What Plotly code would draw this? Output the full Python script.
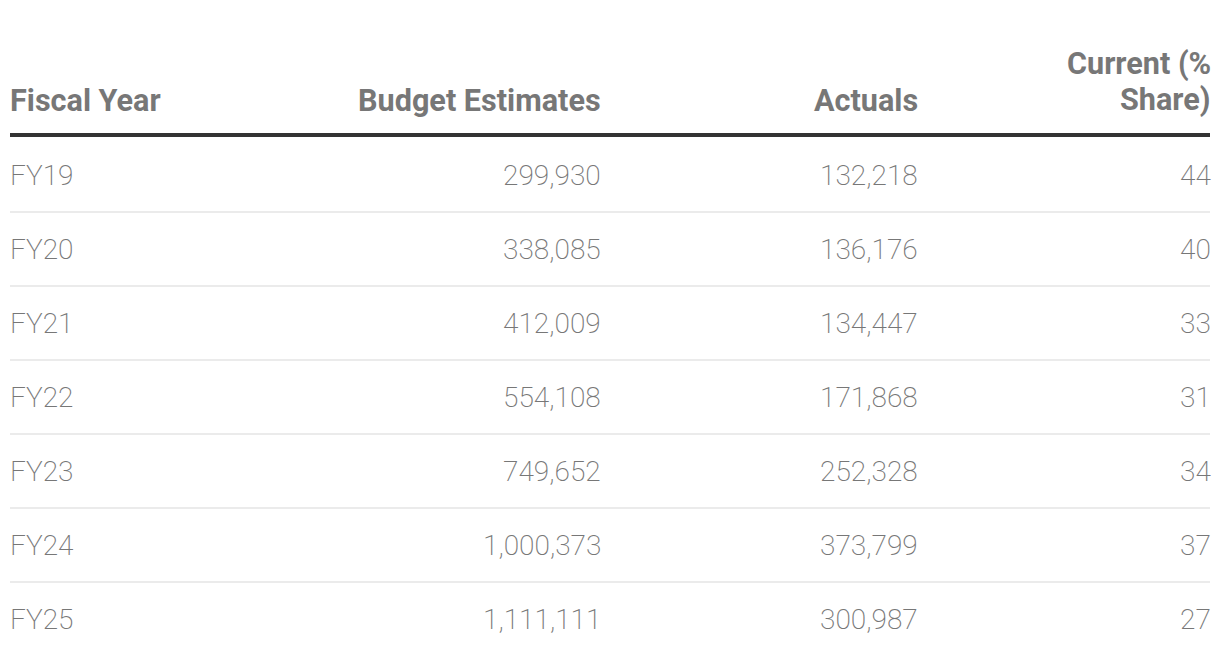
import plotly.graph_objects as go

columns = ["Fiscal Year", "Budget Estimates", "Actuals", "Current (%<br>Share)"]
fiscal_years = ["FY19", "FY20", "FY21", "FY22", "FY23", "FY24", "FY25"]
budget_estimates = [299930, 338085, 412009, 554108, 749652, 1000373, 1111111]
actuals = [132218, 136176, 134447, 171868, 252328, 373799, 300987]
current_share = [44, 40, 33, 31, 34, 37, 27]

W, H = 1220, 664
LEFT, RIGHT = 10, 1210
col_x = [LEFT, 600, 917, RIGHT]
col_align = ["left", "right", "right", "right"]
col_shift = {"left": -2, "right": 3}
header_last_line_center = 100
header_line_gap = 36
header_line_y = 135
row_h = 74
first_row_center = 175

HEADER_COLOR = "#777777"
BODY_COLOR = "#777777"
FONT = "Roboto"

fig = go.Figure()
annotations = []
shapes = []

for j, col in enumerate(columns):
    lines = col.split("<br>")
    n = len(lines)
    for k, line in enumerate(lines):
        yc = header_last_line_center - (n - 1 - k) * header_line_gap
        annotations.append(dict(
            x=col_x[j], y=yc, xref="x", yref="y", xshift=col_shift[col_align[j]],
            text=line, showarrow=False, xanchor=col_align[j], yanchor="middle",
            font=dict(family=FONT, size=30.6, color=HEADER_COLOR, weight=700),
        ))

shapes.append(dict(type="line", xref="x", yref="y", x0=LEFT, x1=RIGHT,
                   y0=header_line_y, y1=header_line_y,
                   line=dict(color="#333333", width=4)))

rows = list(zip(fiscal_years, budget_estimates, actuals, current_share))
for i, (fy, be, ac, cs) in enumerate(rows):
    yc = first_row_center + i * row_h
    vals = [fy, f"{be:,}", f"{ac:,}", f"{cs}"]
    for j, v in enumerate(vals):
        annotations.append(dict(
            x=col_x[j], y=yc, xref="x", yref="y", xshift=col_shift[col_align[j]],
            text=v, showarrow=False, xanchor=col_align[j], yanchor="middle",
            font=dict(family=FONT, size=28, color=BODY_COLOR, weight=200),
        ))
    if i < len(rows) - 1:
        ysep = yc + row_h / 2
        shapes.append(dict(type="line", xref="x", yref="y", x0=LEFT, x1=RIGHT,
                           y0=ysep, y1=ysep,
                           line=dict(color="#ebebeb", width=2)))

fig.update_layout(
    width=W, height=H,
    margin=dict(l=0, r=0, t=0, b=0),
    paper_bgcolor="white", plot_bgcolor="white",
    xaxis=dict(range=[0, W], visible=False, fixedrange=True),
    yaxis=dict(range=[H, 0], visible=False, fixedrange=True),
    annotations=annotations, shapes=shapes,
    showlegend=False,
)

fig.write_html(
    "out.html",
    config={"displayModeBar": False},
    post_script="document.body.style.margin='0';document.body.style.overflow='hidden';",
)
